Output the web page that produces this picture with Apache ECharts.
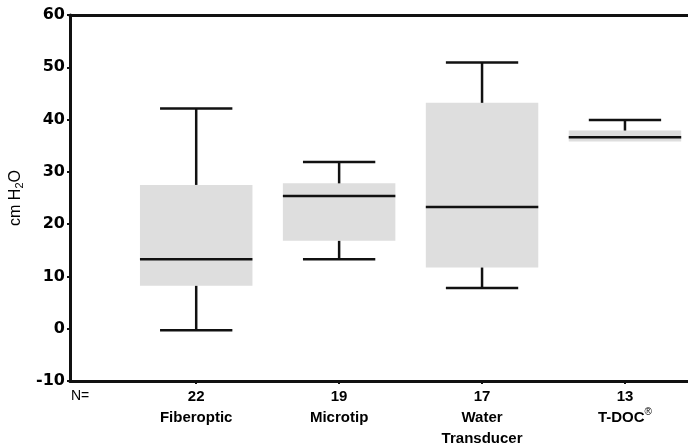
<!DOCTYPE html>
<html>
<head>
<meta charset="utf-8">
<script src="https://cdn.jsdelivr.net/npm/echarts@6/dist/echarts.min.js"></script>
<style>
  html, body { margin: 0; padding: 0; background: #fff; }
  #chart { width: 688px; height: 443px; }
</style>
</head>
<body>
<div id="chart"></div>
<script>
// ---- data ----
var categories = ['Fiberoptic', 'Microtip', 'Water Transducer', 'T-DOC®'];
var nValues = [22, 19, 17, 13];
var lowWhisker = [-0.3, 13.3, 7.8, 35.8];
var q1 = [8.2, 16.8, 11.7, 35.8];
var median = [13.3, 25.4, 23.3, 36.6];
var q3 = [27.5, 27.8, 43.2, 37.9];
var highWhisker = [42.1, 31.9, 50.9, 39.9];
var yTicks = [-10, 0, 10, 20, 30, 40, 50, 60];

var xPos = categories.map(function (c, i) { return i + 1; });
var boxData = categories.map(function (c, i) {
  return [xPos[i], lowWhisker[i], q1[i], median[i], q3[i], highWhisker[i]];
});

var labelText = [
  '{c|Fiberoptic}',
  '{c|Microtip}',
  '{c|Water}\n{c|Transducer}',
  '{c|T-DOC}{sup|®}'
];

var chart = echarts.init(document.getElementById('chart'));
var LINE = '#111';

function renderBox(params, api) {
  var x = api.value(0);
  var low = api.value(1), lo = api.value(2), hi = api.value(4), high = api.value(5);
  var pLow = api.coord([x, low]);
  var pQ1 = api.coord([x, lo]);
  var pMed = api.coord([x, api.value(3)]);
  var pQ3 = api.coord([x, hi]);
  var pHigh = api.coord([x, high]);
  var boxW = api.size([0.787, 0])[0];
  var capW = api.size([0.506, 0])[0];
  var cx = pMed[0];
  var lineStyle = { stroke: LINE, lineWidth: 2.5 };
  var children = [
    { type: 'rect', shape: { x: cx - boxW / 2, y: pQ3[1], width: boxW, height: pQ1[1] - pQ3[1] },
      style: { fill: '#dedede' } }
  ];
  if (high > hi) {
    children.push({ type: 'line', shape: { x1: cx, y1: pQ3[1], x2: cx, y2: pHigh[1] }, style: lineStyle });
    children.push({ type: 'line', shape: { x1: cx - capW / 2, y1: pHigh[1], x2: cx + capW / 2, y2: pHigh[1] }, style: lineStyle });
  }
  if (low < lo) {
    children.push({ type: 'line', shape: { x1: cx, y1: pQ1[1], x2: cx, y2: pLow[1] }, style: lineStyle });
    children.push({ type: 'line', shape: { x1: cx - capW / 2, y1: pLow[1], x2: cx + capW / 2, y2: pLow[1] }, style: lineStyle });
  }
  children.push({ type: 'line', shape: { x1: cx - boxW / 2, y1: pMed[1], x2: cx + boxW / 2, y2: pMed[1] }, style: lineStyle });
  return { type: 'group', children: children };
}

var X_MIN = 0.117, X_MAX = 4.441;

var option = {
  backgroundColor: '#fff',
  animation: false,
  grid: { left: 70, top: 15, right: 0, bottom: 62, containLabel: false, outerBoundsMode: 'none' },
  xAxis: [{
    type: 'value',
    min: X_MIN,
    max: X_MAX,
    splitLine: { show: false },
    axisLine: { show: true, onZero: false, lineStyle: { color: LINE, width: 3 } },
    axisTick: { show: true, length: 3, customValues: xPos, lineStyle: { color: LINE, width: 2 } },
    axisLabel: {
      show: true,
      customValues: xPos,
      margin: 5,
      formatter: function (v) {
        var i = Math.round(v) - 1;
        return '{n|' + nValues[i] + '}\n' + labelText[i];
      },
      rich: {
        n: { fontFamily: 'Liberation Sans', fontWeight: 'bold', fontSize: 15, lineHeight: 21, color: '#000' },
        c: { fontFamily: 'Liberation Sans', fontWeight: 'bold', fontSize: 15, lineHeight: 21, color: '#000' },
        sup: { fontFamily: 'Liberation Sans', fontSize: 10, lineHeight: 21, verticalAlign: 'top', color: '#000', padding: [0, 0, 6, 0] }
      }
    }
  }, {
    type: 'value',
    position: 'top',
    min: X_MIN,
    max: X_MAX,
    splitLine: { show: false },
    axisLine: { show: true, onZero: false, lineStyle: { color: LINE, width: 3 } },
    axisTick: { show: false },
    axisLabel: { show: false }
  }],
  yAxis: {
    type: 'value',
    min: -10,
    max: 60,
    interval: 10,
    splitLine: { show: false },
    axisLine: { show: true, onZero: false, lineStyle: { color: LINE, width: 3 } },
    axisTick: { show: true, length: 3, lineStyle: { color: LINE, width: 2 } },
    axisLabel: {
      margin: 5,
      fontFamily: 'DejaVu Sans',
      fontWeight: 'bold',
      fontSize: 16,
      color: '#000',
      formatter: function (v) { return yTicks.indexOf(v) >= 0 ? String(v) : ''; }
    },
    name: '{m|cm H}{sub|2}{m|O}',
    nameLocation: 'middle',
    nameRotate: 90,
    nameGap: 34,
    nameTextStyle: {
      rich: {
        m: { fontFamily: 'Liberation Sans', fontSize: 16, fontWeight: 500, color: '#000', lineHeight: 20 },
        sub: { fontFamily: 'Liberation Sans', fontSize: 11, color: '#000', lineHeight: 20, padding: [8, 0, 0, 0] }
      }
    }
  },
  graphic: [{
    type: 'text',
    left: 71,
    top: 389,
    style: { text: 'N=', font: '14px "Liberation Sans"', fill: '#000' }
  }],
  series: [{
    type: 'custom',
    xAxisIndex: 0,
    renderItem: renderBox,
    encode: { x: 0, y: [1, 2, 3, 4, 5] },
    data: boxData,
    clip: false
  }]
};

chart.setOption(option);
</script>
</body>
</html>
